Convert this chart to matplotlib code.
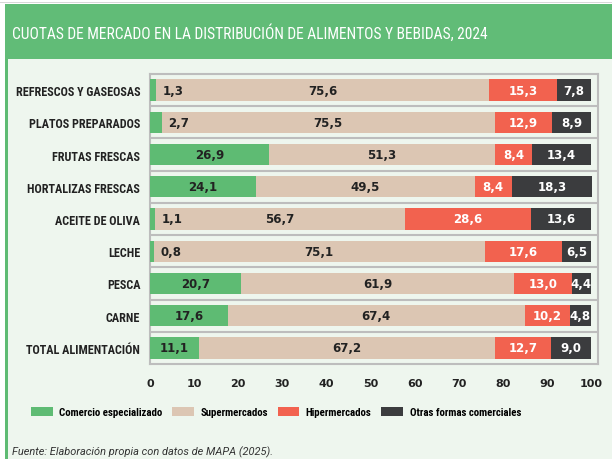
import matplotlib.pyplot as plt
import numpy as np
from matplotlib.patches import Rectangle

categorias = ["REFRESCOS Y GASEOSAS", "PLATOS PREPARADOS", "FRUTAS FRESCAS",
              "HORTALIZAS FRESCAS", "ACEITE DE OLIVA", "LECHE", "PESCA",
              "CARNE", "TOTAL ALIMENTACIÓN"]
comercio = [1.3, 2.7, 26.9, 24.1, 1.1, 0.8, 20.7, 17.6, 11.1]
super_m = [75.6, 75.5, 51.3, 49.5, 56.7, 75.1, 61.9, 67.4, 67.2]
hiper = [15.3, 12.9, 8.4, 8.4, 28.6, 17.6, 13.0, 10.2, 12.7]
otras = [7.8, 8.9, 13.4, 18.3, 13.6, 6.5, 4.4, 4.8, 9.0]
series_names = ["Comercio especializado", "Supermercados", "Hipermercados",
                "Otras formas comerciales"]

colores = ["#5EBB73", "#DCC6B3", "#F2624F", "#3B3C3E"]
txt_col = ["#222222", "#222222", "white", "white"]
bg = "#EEF6EE"
cond = ["Roboto Condensed", "Roboto", "DejaVu Sans"]

fig = plt.figure(figsize=(6.12, 4.6), dpi=100)
fig.patch.set_facecolor("white")

# panel + title bar
fig.patches.append(Rectangle((5/612, 0), 1, 1 - 5/460, transform=fig.transFigure,
                             facecolor=bg, edgecolor="none", zorder=-3))
fig.patches.append(Rectangle((5/612, 0), 3/612, 1 - 5/460, transform=fig.transFigure,
                             facecolor="#5EBB73", edgecolor="none", zorder=-2))
fig.patches.append(Rectangle((5/612, 1 - 60/460), 1, 55/460, transform=fig.transFigure,
                             facecolor="#61BC77", edgecolor="none", zorder=-1))
fig.patches.append(Rectangle((0, 1 - 4/460), 1, 1/460, transform=fig.transFigure,
                             facecolor="#D8D8D8", edgecolor="none", zorder=-1))
fig.text(12/612, 1 - 33/460, "CUOTAS DE MERCADO EN LA DISTRIBUCIÓN DE ALIMENTOS Y BEBIDAS, 2024",
         color="white", fontsize=11.2, family=cond, va="center", ha="left")

ax = fig.add_axes([150/612, 1 - 365/460, 448/612, 290/460])
ax.set_facecolor(bg)

y = np.arange(len(categorias))
data = [comercio, super_m, hiper, otras]
left = np.zeros(len(categorias))
for k, vals in enumerate(data):
    vals = np.array(vals)
    ax.barh(y, vals, left=left, height=0.66, color=colores[k], label=series_names[k], zorder=3)
    for i, v in enumerate(vals):
        lab = f"{v:.1f}".replace(".", ",")
        if k == 0 and v < 5:
            ax.text(left[i] + v + 1.5, y[i], lab, ha="left", va="center",
                    fontsize=8.5, fontweight="bold", color=txt_col[k], zorder=4)
        else:
            ax.text(left[i] + v / 2, y[i], lab, ha="center", va="center",
                    fontsize=8.5, fontweight="bold", color=txt_col[k], zorder=4)
    left += vals

ax.set_xlim(0, 101.6)
ax.set_ylim(len(categorias) - 0.5, -0.5)
ax.set_yticks(y)
ax.set_yticklabels(categorias, fontsize=8.7, fontweight="bold", family=cond, color="#222222")
ax.set_xticks(np.arange(0, 101, 10))
ax.set_xticklabels([str(t) for t in range(0, 101, 10)], fontsize=8, fontweight="bold",
                   color="#222222")
ax.tick_params(axis="y", length=0, pad=7)
ax.tick_params(axis="x", length=0, pad=10)
for b in np.arange(0.5, len(categorias) - 1, 1):
    ax.axhline(b, color="#BDBDBD", lw=1.5, zorder=1)
for s in ax.spines.values():
    s.set_color("#BDBDBD")
    s.set_linewidth(1.5)

leg = fig.legend(loc="center", bbox_to_anchor=(276/612, 1 - 413/460), ncol=4, frameon=False,
                 handlelength=2.0, handleheight=0.95, columnspacing=0.9, handletextpad=0.6,
                 prop={"family": cond, "weight": "bold", "size": 7.8})

fig.text(12/612, 1 - 452/460, "Fuente: Elaboración propia con datos de MAPA (2025).",
         fontsize=7.9, style="italic", family=["Roboto", "DejaVu Sans"], color="#333333",
         ha="left", va="center")

fig.savefig("out.png", dpi=100, facecolor=fig.get_facecolor())
